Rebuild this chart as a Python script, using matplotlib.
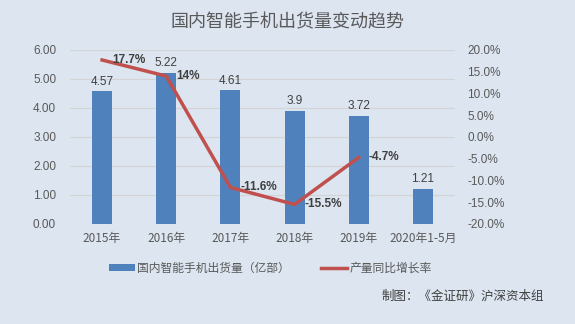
import matplotlib.pyplot as plt
from matplotlib.ticker import FuncFormatter

plt.rcParams['font.family'] = ['Noto Sans CJK SC', 'DejaVu Sans']

categories = ["2015年", "2016年", "2017年", "2018年", "2019年", "2020年1-5月"]
shipments = [4.57, 5.22, 4.61, 3.9, 3.72, 1.21]
growth = [17.7, 14, -11.6, -15.5, -4.7]
growth_labels = ["17.7%", "14%", "-11.6%", "-15.5%", "-4.7%"]

bg = "#DCE5F0"
bar_color = "#4F81BD"
line_color = "#C0504D"
text_color = "#404040"
num_font = ["Liberation Sans", "DejaVu Sans"]

fig = plt.figure(figsize=(5.75, 3.24), dpi=100, facecolor=bg)
ax = fig.add_axes([70 / 575, 1 - 224 / 324, 385 / 575, 174 / 324])
ax.set_facecolor(bg)
ax2 = ax.twinx()

x = list(range(len(categories)))
bars = ax.bar(x, shipments, width=0.31, color=bar_color, zorder=2)
for xi, v in zip(x, shipments):
    ax.text(xi, v + 0.13, f"{v:g}", ha="center", va="bottom", fontsize=8.5,
            color=text_color, family=num_font)

ax.set_xlim(-0.5, len(categories) - 0.5)
ax.set_ylim(0, 6)
ax.set_yticks([0, 1, 2, 3, 4, 5, 6])
ax.yaxis.set_major_formatter(FuncFormatter(lambda v, p: f"{v:.2f}"))
ax.set_xticks(x)
ax.set_xticklabels(categories)
ax.grid(axis="y", color="#D4D4D4", linewidth=0.8, zorder=0)
ax.set_axisbelow(True)

line, = ax2.plot(x[:len(growth)], growth, color=line_color, linewidth=2.5,
                 zorder=3)
for xi, v, lab in zip(x, growth, growth_labels):
    ax2.annotate(lab, (xi, v), xytext=(7, 0), textcoords="offset points",
                 ha="left", va="center", fontsize=8.5, fontweight="bold",
                 color=text_color, family=num_font)
ax2.set_ylim(-20, 20)
ax2.set_yticks(range(-20, 21, 5))
ax2.yaxis.set_major_formatter(FuncFormatter(lambda v, p: f"{v:.1f}%"))

for a in (ax, ax2):
    for s in a.spines.values():
        s.set_visible(False)
    a.tick_params(length=0, labelsize=8.5, colors="#595959")
ax.tick_params(axis="y", pad=10)
ax2.tick_params(axis="y", pad=9)
ax.tick_params(axis="x", pad=6)
for lab in ax.get_yticklabels() + ax2.get_yticklabels():
    lab.set_family(num_font)

fig.text(0.5, 1 - 22 / 324, "国内智能手机出货量变动趋势", ha="center", va="center",
         fontsize=13, color="#595959")

fig.legend([bars, line], ["国内智能手机出货量（亿部）", "产量同比增长率"],
           loc="center", bbox_to_anchor=(0.47, 1 - 268 / 324), ncol=2,
           frameon=False, fontsize=8.5, labelcolor="#595959",
           handlelength=2.2, handleheight=0.5, columnspacing=2.6, handletextpad=0.2)

fig.text(1 - 31 / 575, 1 - 296 / 324, "制图：《金证研》沪深资本组", ha="right",
         va="center", fontsize=9, color="#404040")

fig.savefig("out.png", dpi=100, facecolor=bg)
